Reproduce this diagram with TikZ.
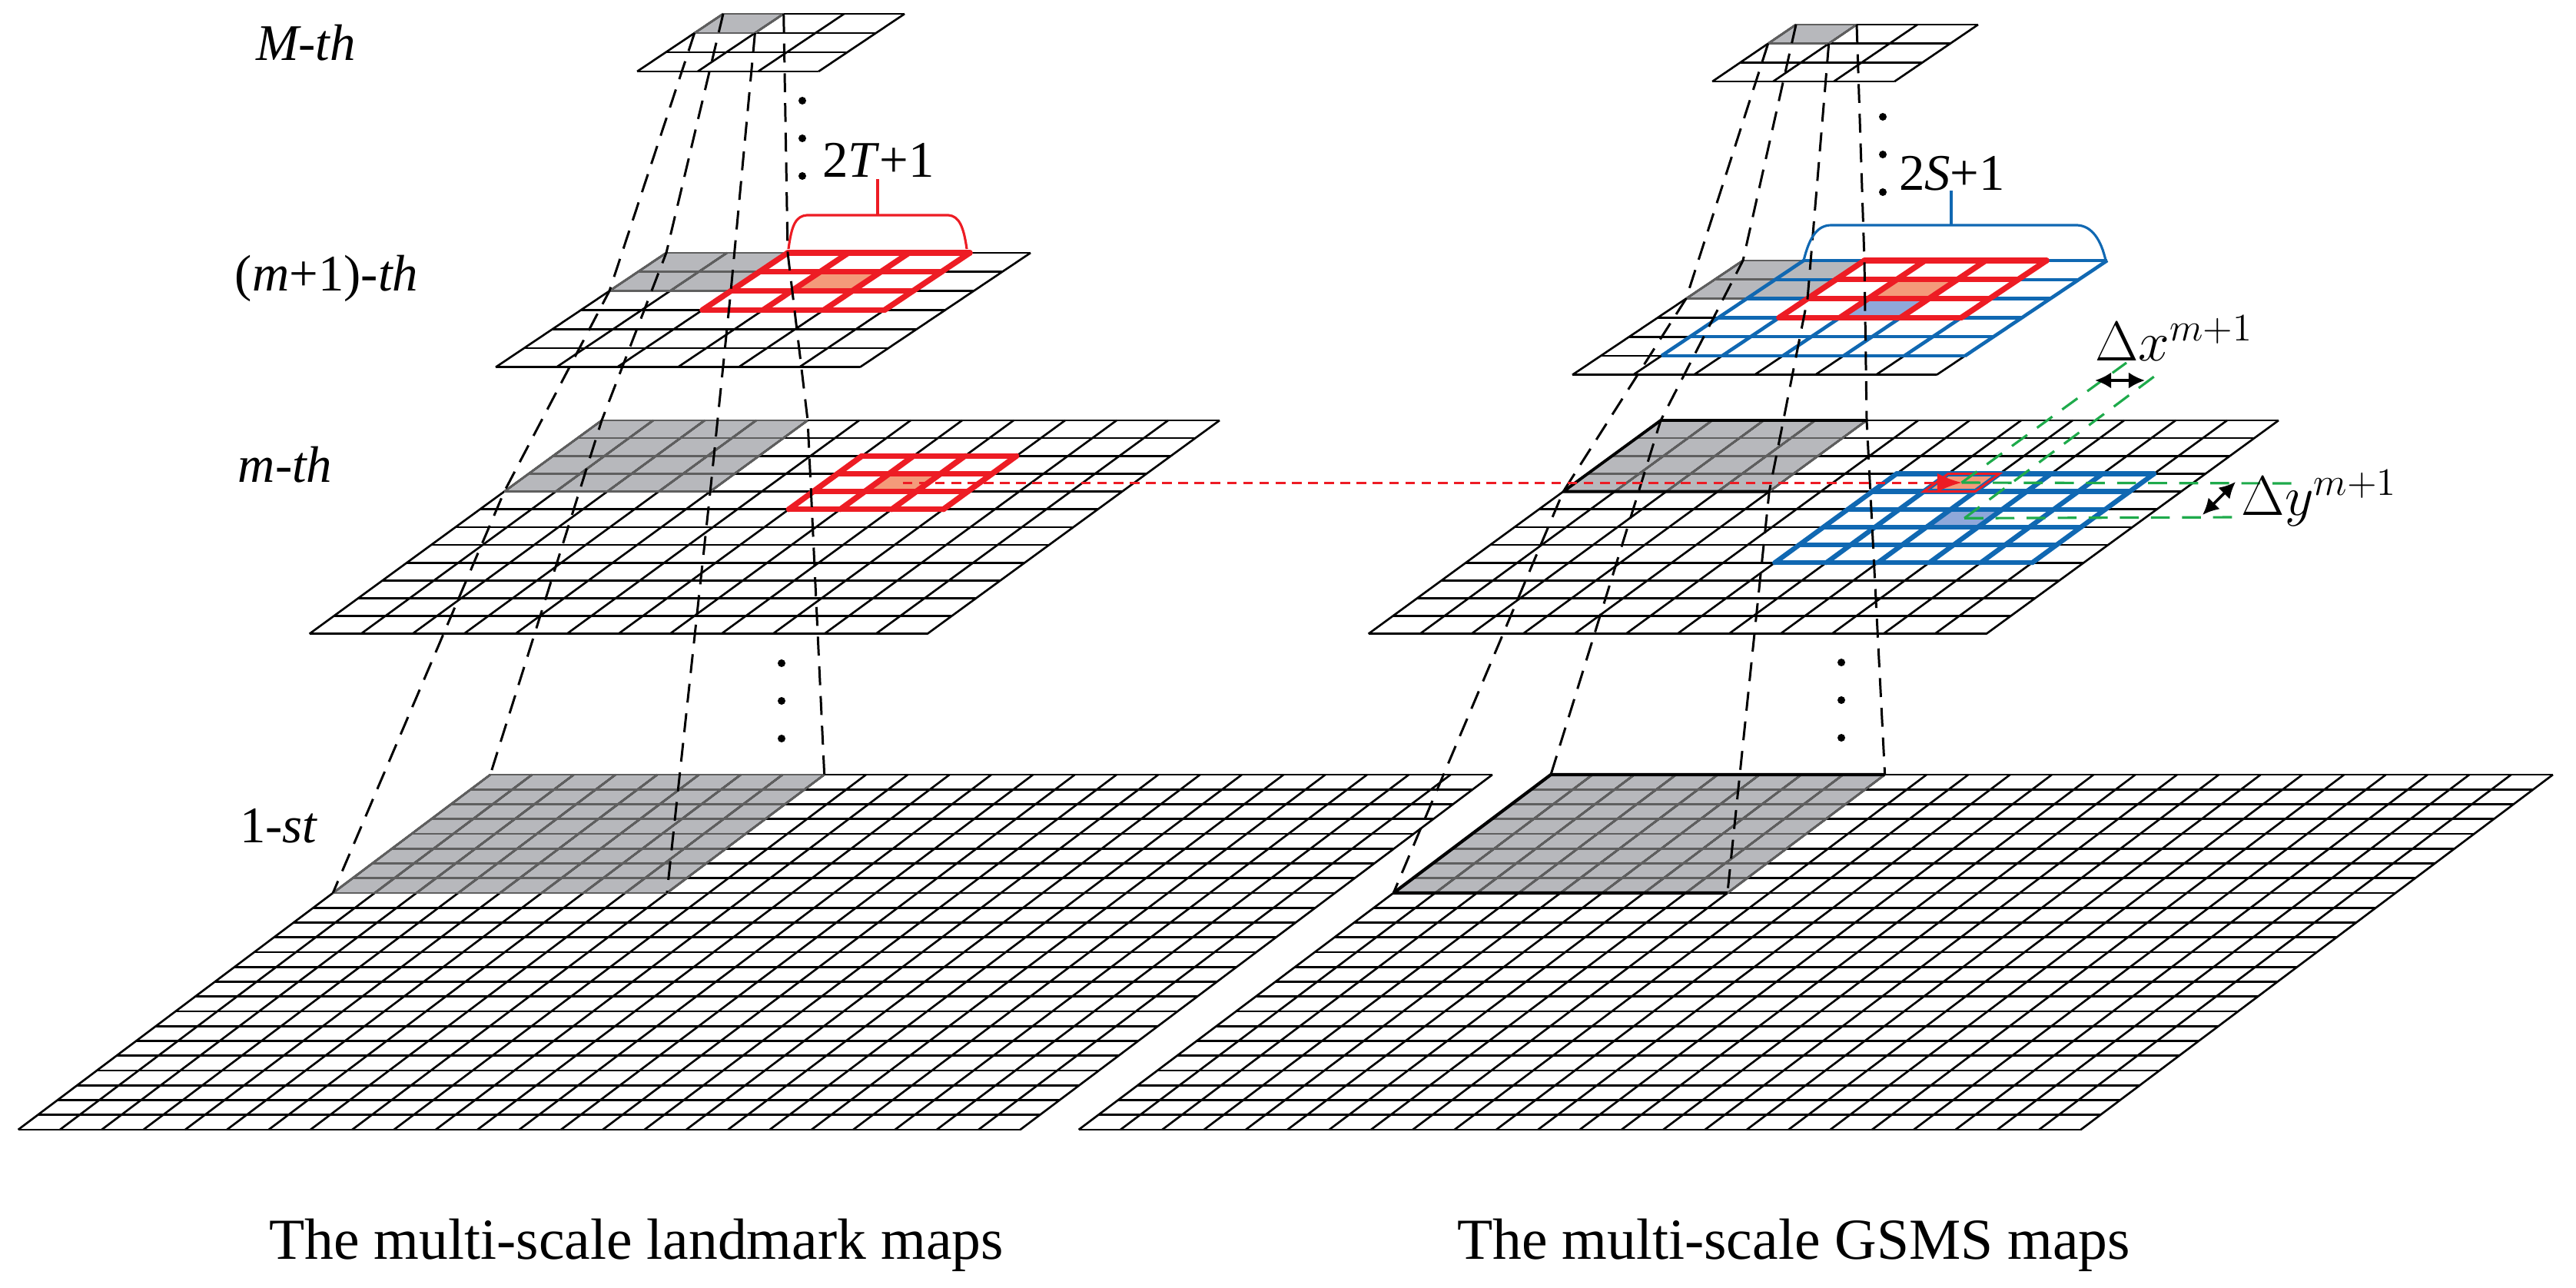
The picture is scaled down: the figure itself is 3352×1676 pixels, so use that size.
\documentclass[tikz,border=0pt]{standalone}
\usepackage{fontspec}
\setmainfont{Liberation Serif}
\usetikzlibrary{arrows.meta}
\definecolor{grayfill}{RGB}{183,184,188}
\definecolor{grayline}{RGB}{95,95,95}
\definecolor{myred}{RGB}{237,28,36}
\definecolor{myorange}{RGB}{244,154,122}
\definecolor{myblue}{RGB}{16,104,178}
\definecolor{lblue}{RGB}{143,168,218}
\definecolor{mygreen}{RGB}{30,170,75}
\newcommand{\cellfill}[3]{\fill[#1] (#2,#3) -- ++(1,0) -- ++(0,1) -- ++(-1,0) -- cycle;}
\newcommand{\gridlines}[5]{%
  \foreach \jj in {#2,...,#4} \draw[#5] (#1,\jj) -- (#3,\jj);
  \foreach \ii in {#1,...,#3} \draw[#5] (\ii,#2) -- (\ii,#4);}
\newcommand{\grayblock}[1]{\fill[grayfill] (0,0) -- (#1,0) -- (#1,#1) -- (0,#1) -- cycle;}
\begin{document}
\begin{tikzpicture}[x=0.01cm,y=-0.01cm,
  gl/.style={line width=0.75pt,black},
  gg/.style={line width=0.75pt,grayline},
  redl/.style={line width=2.1pt,myred,line join=round,line cap=round},
  bluel/.style={line width=1.8pt,myblue,line join=round,line cap=round},
  bluethin/.style={line width=1.3pt,myblue,line join=round},
  pyr/.style={line width=0.85pt,black,dash pattern=on 7pt off 4pt},
  lab/.style={font=\fontsize{19}{22}\selectfont,inner sep=0pt},
  grn/.style={line width=0.9pt,mygreen,dash pattern=on 7pt off 4.5pt}]
\useasboundingbox (0,0) rectangle (3352,1676);
% ---------------- LEFT STACK ----------------
\begin{scope}[shift={(638,1008)},cm={54.33,0,25.6,19.25,(0,0)}]
  \grayblock{8}
  \gridlines{0}{0}{24}{24}{gl}
  \gridlines{0}{0}{8}{8}{gg}
  \coordinate (L1a) at (0,0); \coordinate (L1b) at (8,0);
  \coordinate (L1c) at (0,8); \coordinate (L1d) at (8,8);
\end{scope}
\begin{scope}[shift={(783,547)},cm={67,0,31.7,23.15,(0,0)}]
  \grayblock{4}
  \cellfill{myorange}{7}{3}
  \gridlines{0}{0}{12}{12}{gl}
  \gridlines{0}{0}{4}{4}{gg}
  \gridlines{6}{2}{9}{5}{redl}
  \coordinate (Lma) at (0,0); \coordinate (Lmb) at (4,0);
  \coordinate (Lmc) at (0,4); \coordinate (Lmd) at (4,4);
  \coordinate (Lmctr) at (7.5,3.5);
\end{scope}
\begin{scope}[shift={(867,329)},cm={79,0,37,24.8,(0,0)}]
  \grayblock{2}
  \cellfill{myorange}{3}{1}
  \gridlines{0}{0}{6}{6}{gl}
  \gridlines{0}{0}{2}{2}{gg}
  \gridlines{2}{0}{5}{3}{redl}
  \coordinate (Lpa) at (0,0); \coordinate (Lpb) at (2,0);
  \coordinate (Lpc) at (0,2); \coordinate (Lpd) at (2,2);
\end{scope}
\begin{scope}[shift={(941,18)},cm={78.7,0,37.3,25,(0,0)}]
  \grayblock{1}
  \gridlines{0}{0}{3}{3}{gl}
  \gridlines{0}{0}{1}{1}{gg}
  \coordinate (LMa) at (0,0); \coordinate (LMb) at (1,0);
  \coordinate (LMc) at (0,1); \coordinate (LMd) at (1,1);
\end{scope}
% ---------------- RIGHT STACK ----------------
\begin{scope}[shift={(2018,1008)},cm={54.33,0,25.6,19.25,(0,0)}]
  \grayblock{8}
  \gridlines{0}{0}{24}{24}{gl}
  \gridlines{0}{0}{8}{8}{gg}
  \draw[line width=1.2pt] (0,0) -- (8,0) (0,8) -- (8,8) (0,0) -- (0,8);
  \coordinate (R1a) at (0,0); \coordinate (R1b) at (8,0);
  \coordinate (R1c) at (0,8); \coordinate (R1d) at (8,8);
\end{scope}
\begin{scope}[shift={(2161,547)},cm={67,0,31.7,23.15,(0,0)}]
  \grayblock{4}
  \cellfill{lblue}{8}{5}
  \cellfill{myorange}{7}{3}
  \gridlines{0}{0}{12}{12}{gl}
  \gridlines{0}{0}{4}{4}{gg}
  \draw[line width=1.1pt] (0,0) -- (4,0) (0,4) -- (4,4) (0,0) -- (0,4);
  \gridlines{6}{3}{11}{8}{bluel}
  \draw[line width=0.8pt,myred] (7,3) -- (8,3) -- (8,4) -- (7,4) -- cycle;
  \coordinate (Rma) at (0,0); \coordinate (Rmb) at (4,0);
  \coordinate (Rmc) at (0,4); \coordinate (Rmd) at (4,4);
  \coordinate (Rmctr) at (7.5,3.5);
  \coordinate (G1) at (7.5,3.5); \coordinate (G2) at (8.5,5.5);
\end{scope}
\begin{scope}[shift={(2268,339)},cm={79,0,37,24.8,(0,0)}]
  \grayblock{2}
  \cellfill{myorange}{3}{1}
  \cellfill{lblue}{3}{2}
  \gridlines{0}{0}{6}{6}{gl}
  \gridlines{0}{0}{2}{2}{gg}
  \gridlines{1}{0}{6}{5}{bluethin}
  \gridlines{2}{0}{5}{3}{redl}
  \coordinate (Rpa) at (0,0); \coordinate (Rpb) at (2,0);
  \coordinate (Rpc) at (0,2); \coordinate (Rpd) at (2,2);
\end{scope}
\begin{scope}[shift={(2337,32)},cm={79,0,36.3,24.7,(0,0)}]
  \grayblock{1}
  \gridlines{0}{0}{3}{3}{gl}
  \gridlines{0}{0}{1}{1}{gg}
  \coordinate (RMa) at (0,0); \coordinate (RMb) at (1,0);
  \coordinate (RMc) at (0,1); \coordinate (RMd) at (1,1);
\end{scope}
% ---------------- pyramid dashed lines ----------------
\foreach \k in {a,b,c,d} {
  \draw[pyr] (LM\k) -- (Lp\k) -- (Lm\k) -- (L1\k);
  \draw[pyr] (RM\k) -- (Rp\k) -- (Rm\k) -- (R1\k);
}
% ---------------- dots ----------------
\foreach \yy in {131,180,229} \fill (1044,\yy) circle (5);
\foreach \yy in {152,201,250} \fill (2450,\yy) circle (5);
\foreach \yy in {863,912,961} \fill (1017,\yy) circle (5);
\foreach \yy in {862,911,960} \fill (2396,\yy) circle (5);
% ---------------- brackets ----------------
\draw[myred,line width=0.9pt] (1026,324) .. controls (1030,292) and (1036,281) .. (1050,280) -- (1234,280) .. controls (1248,281) and (1254,295) .. (1258,324);
\draw[myred,line width=0.9pt] (1142,280) -- (1142,233);
\draw[myblue,line width=0.9pt] (2347,339) .. controls (2355,306) and (2366,293) .. (2383,293) -- (2703,293) .. controls (2722,294) and (2734,312) .. (2740,339);
\draw[myblue,line width=0.9pt] (2539,293) -- (2539,248);
% ---------------- red dashed arrow ----------------
\draw[myred,line width=0.85pt,dash pattern=on 3.6pt off 2.4pt,-{Latex[length=9pt,width=7pt]}] (Lmctr) -- (Rmctr);
% ---------------- green lines ----------------
\coordinate (G1u) at (2767,472); \coordinate (G2u) at (2815,481);
\coordinate (G1r) at (2985,629); \coordinate (G2r) at (2912,673);
\draw[grn] (G1) -- (G1u);
\draw[grn] (G2) -- (G2u);
\draw[grn] (G1) -- (G1r);
\draw[grn] (G2) -- (G2r);
\coordinate (dxa) at (2726,495); \coordinate (dxb) at (2791,495);
\draw[line width=1pt,{Latex[length=6pt,width=6pt]}-{Latex[length=6pt,width=6pt]}] (dxa) -- (dxb);
\coordinate (dya) at (2866,670); \coordinate (dyb) at (2909,627);
\draw[line width=1pt,{Latex[length=6pt,width=6pt]}-{Latex[length=6pt,width=6pt]}] (dya) -- (dyb);
% ---------------- labels ----------------
\node[lab] (lM) at (398,56) {\textit{M-th}};
\node[lab] (lp) at (425,362) {(\textit{m}+1)-\textit{th}};
\node[lab] (lm) at (371,605) {\textit{m-th}};
\node[lab] (l1) at (363,1075) {1-\textit{st}};
\node[lab] (lT) at (1143,208) {2\textit{T}+1};
\node[lab] (lS) at (2540,226) {2\textit{S}+1};
\node[lab,font=\fontsize{20}{23}\selectfont] (ldx) at (2829,440) {$\Delta x^{m+1}$};
\node[lab,font=\fontsize{20}{23}\selectfont] (ldy) at (3018,648) {$\Delta y^{m+1}$};
\node[lab,font=\fontsize{21.5}{25}\selectfont] (t1) at (828,1620) {The multi-scale landmark maps};
\node[lab,font=\fontsize{21.5}{25}\selectfont] (t2) at (2334,1620) {The multi-scale GSMS maps};
\end{tikzpicture}
\end{document}
